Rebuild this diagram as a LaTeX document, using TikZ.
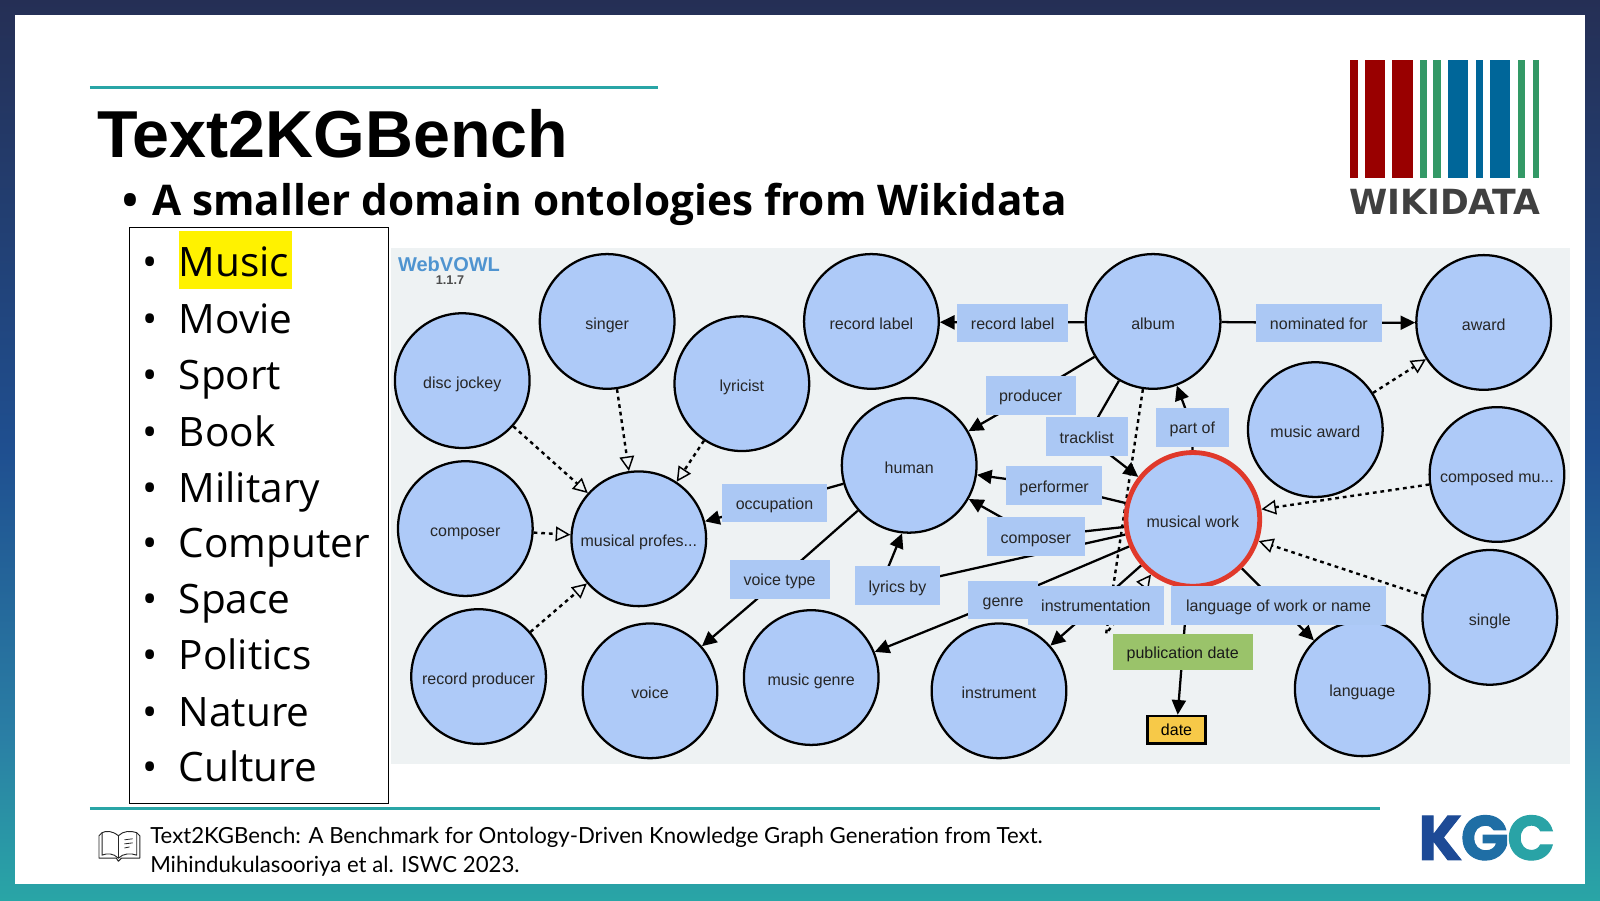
\documentclass[tikz,border=0pt]{standalone}
\usepackage{fontspec}
\setmainfont{Liberation Sans}
\newfontfamily\listf{Open Sans}
\newfontfamily\footf{Lato}
\newfontfamily\wikif{DejaVu Sans}
\newfontfamily\kgcf[FakeBold=1.6]{Poppins}
\usetikzlibrary{arrows.meta,backgrounds}
\definecolor{navyc}{HTML}{252F55}
\definecolor{midc}{HTML}{1F4F90}
\definecolor{lowc}{HTML}{2A7FA5}
\definecolor{tealc}{HTML}{29A5A6}
\definecolor{panelc}{HTML}{EEF2F3}
\definecolor{classc}{HTML}{AECAF8}
\definecolor{lblc}{HTML}{ABC8F4}
\definecolor{greenc}{HTML}{9AC36A}
\definecolor{datec}{HTML}{F7C948}
\definecolor{redc}{HTML}{E0392B}
\definecolor{wred}{HTML}{990000}
\definecolor{wgreen}{HTML}{339966}
\definecolor{wblue}{HTML}{006699}
\pgfdeclareverticalshading{frameg}{100bp}{color(0bp)=(tealc); color(25bp)=(tealc); color(34bp)=(lowc); color(50bp)=(midc); color(75bp)=(navyc); color(100bp)=(navyc)}
\pgfdeclarelayer{back}
\pgfdeclarelayer{edges}
\pgfsetlayers{back,edges,main}
\def\u{0.7653pt}
\tikzset{
  x=0.7653pt,y=-0.7653pt,
  cls/.style={circle,draw=black,fill=classc,line width=1.7pt,minimum size=132*\u,inner sep=0pt,text height=14pt,text depth=2pt,font=\fontsize{12}{14}\selectfont,text=black!85},
  lbl/.style={fill=lblc,inner sep=0pt,minimum height=38*\u,text height=11.5pt,text depth=2pt,font=\fontsize{12}{14}\selectfont,text=black!85},
  solidedge/.style={line width=1.7pt,-{Triangle[length=11pt,width=10.5pt]}},
  subedge/.style={line width=1.8pt,dash pattern=on 2.8pt off 2.9pt,-{Triangle[open,length=11pt,width=11pt,line width=1.1pt,fill=panelc]}},
  rulec/.style={tealc,line width=2.3pt},
  item/.style={anchor=base west,inner sep=0pt,font=\listf\fontsize{30.4}{34}\selectfont},
  bul/.style={anchor=base,inner sep=0pt,font=\listf\fontsize{30.4}{34}\selectfont},
  subt/.style={inner sep=0pt,font=\listf\bfseries\fontsize{31.7}{36}\selectfont},
  foott/.style={anchor=base west,inner sep=0pt,font=\footf\fontsize{16.65}{20}\selectfont},
}
\begin{document}
\begin{tikzpicture}
\useasboundingbox (0,0) rectangle (1568,882);
\begin{pgfonlayer}{back}
\shade[shading=frameg] (0,0) rectangle (1568,882);
\fill[white] (15,15) rectangle (1553,866);
\fill[panelc] (383,243) rectangle (1539,749);
\draw[black,line width=0.8pt,fill=white] (127,223) rectangle (381,787);
\fill[yellow] (175,226) rectangle (286,283);
\draw[rulec] (88,86) -- (645,86);
\draw[rulec] (88,792) -- (1352,792);
% Wikidata logo bars
\fill[wred] (1323.3,59) rectangle (1330.5,174);
\fill[wred] (1337.7,59) rectangle (1357.6,174);
\fill[wred] (1364.5,59) rectangle (1384.7,174);
\fill[wgreen] (1391.6,59) rectangle (1398.8,174);
\fill[wgreen] (1404.7,59) rectangle (1411.9,174);
\fill[wblue] (1419,59) rectangle (1439,174);
\fill[wblue] (1446.2,59) rectangle (1453.3,174);
\fill[wblue] (1460.2,59) rectangle (1480.1,174);
\fill[wgreen] (1487.6,59) rectangle (1494.5,174);
\fill[wgreen] (1502,59) rectangle (1508.5,174);
% book icon
\draw[black!85,line width=0.7pt,line join=round]
  (116,819) .. controls (110,814) and (104,814) .. (100,816) -- (97,819) -- (97,841) -- (114,841) -- (116,844) -- (119,841) -- (137,841) -- (137,819) -- (134,816) .. controls (128,814) and (121,814) .. (116,819) -- cycle;
\draw[black!85,line width=0.7pt] (116,819) -- (116,841);
\draw[black!85,line width=0.7pt] (100,816) -- (100,838) .. controls (105,836) and (111,836) .. (116,841) .. controls (121,836) and (128,836) .. (134,838) -- (134,816);
\draw[black!85,line width=0.6pt] (122,823) -- (130,822) (122,827) -- (130,826) (122,831) -- (127,830);
\end{pgfonlayer}

% title and subtitle
\node[anchor=base west,inner sep=0pt,font=\bfseries\fontsize{49.8}{54}\selectfont] (title) at (95,154) {Text2KGBench};
\node[subt,anchor=base] (subbul) at (128,211) {•};
\node[subt,anchor=base west] (sub) at (149,211) {A smaller domain ontologies from Wikidata};

% topic list
\node[bul] (b1) at (147,271) {•}; \node[item] (t1) at (175,271) {Music};
\node[bul] (b2) at (147,327) {•}; \node[item] (t2) at (175,327) {Movie};
\node[bul] (b3) at (147,382) {•}; \node[item] (t3) at (175,382) {Sport};
\node[bul] (b4) at (147,437.5) {•}; \node[item] (t4) at (175,437.5) {Book};
\node[bul] (b5) at (147,492) {•}; \node[item] (t5) at (175,492) {Military};
\node[bul] (b6) at (147,546.5) {•}; \node[item] (t6) at (175,546.5) {Computer};
\node[bul] (b7) at (147,601) {•}; \node[item] (t7) at (175,601) {Space};
\node[bul] (b8) at (147,656.5) {•}; \node[item] (t8) at (175,656.5) {Politics};
\node[bul] (b9) at (147,711.5) {•}; \node[item] (t9) at (175,711.5) {Nature};
\node[bul] (b10) at (147,766) {•}; \node[item] (t10) at (175,766) {Culture};

% logos
\node[inner sep=0pt,font=\wikif\bfseries\fontsize{26}{28}\selectfont,text=black!75] (wikidata) at (1416,198) {WIKIDATA};
\node[inner sep=0pt,font=\kgcf\bfseries\fontsize{47}{52}\selectfont] (kgc) at (1457,821) {\color[HTML]{1D4A96}K\kern-1pt\color[HTML]{1F6EA5}G\kern-1pt\color[HTML]{29A3A6}C};

% footer
\node[foott] (foot1) at (147,827) {Text2KGBench: A Benchmark for Ontology-Driven Knowledge Graph Generation from Text.};
\node[foott] (foot2) at (147,855) {Mihindukulasooriya et al. ISWC 2023.};

% WebVOWL header
\node[inner sep=0pt,font=\bfseries\fontsize{15}{18}\selectfont,text={rgb,255:red,79;green,148;blue,208}] (wv) at (440,259) {WebVOWL};
\node[inner sep=0pt,font=\bfseries\fontsize{9.5}{10}\selectfont,text=black!70] (wvv) at (441,275) {1.1.7};

% classes
\node[cls] (disc) at (453,373) {disc jockey};
\node[cls] (singer) at (595,315) {singer};
\node[cls] (lyricist) at (727,376) {lyricist};
\node[cls] (rlabel) at (854,315) {record label};
\node[cls] (album) at (1130,315) {album};
\node[cls] (award) at (1454,316) {award};
\node[cls] (maward) at (1289,421) {music award};
\node[cls] (human) at (891,456) {human};
\node[cls,draw=redc,line width=3.6pt,minimum size=131*\u] (mw) at (1169,509) {musical work};
\node[cls] (compmu) at (1467,465) {composed mu...};
\node[cls] (composer) at (456,518) {composer};
\node[cls] (mprof) at (626,528) {musical profes...};
\node[cls] (single) at (1460,605) {single};
\node[cls] (rprod) at (469,663) {record producer};
\node[cls] (voice) at (637,677) {voice};
\node[cls] (mgenre) at (795,664) {music genre};
\node[cls] (instr) at (979,677) {instrument};
\node[cls] (lang) at (1335,675) {language};
\node[draw=black,line width=1.7pt,fill=datec,minimum width=57*\u,minimum height=27*\u,inner sep=0pt,text height=11pt,text depth=2pt,font=\fontsize{12}{14}\selectfont] (date) at (1153,715) {date};

% property labels
\node[lbl,minimum width=109*\u] (lrl) at (992.5,316.5) {record label};
\node[lbl,minimum width=123*\u] (lnom) at (1292.5,316.5) {nominated for};
\node[lbl,minimum width=88*\u] (lprod) at (1010,387.5) {producer};
\node[lbl,minimum width=80*\u] (ltrack) at (1065,428) {tracklist};
\node[lbl,minimum width=71*\u] (lpart) at (1168.5,419) {part of};
\node[lbl,minimum width=94*\u] (lperf) at (1033,476) {performer};
\node[lbl,minimum width=96*\u] (lcomp) at (1015,526) {composer};
\node[lbl,minimum width=102*\u] (locc) at (759,493) {occupation};
\node[lbl,minimum width=98*\u] (lvoice) at (764,568) {voice type};
\node[lbl,minimum width=83*\u] (llyr) at (879.5,574) {lyrics by};
\node[lbl,minimum width=68*\u] (lgenre) at (983,588) {genre};
\node[lbl,minimum width=134*\u] (linstr) at (1074,593.5) {instrumentation};
\node[lbl,minimum width=210*\u] (llang) at (1253,593) {language of work or name};
\node[lbl,fill=greenc,minimum width=137*\u,minimum height=36*\u,text=black!90] (lpub) at (1159,639) {publication date};

\coordinate (bend) at (1084,621);
\coordinate (lyrbend) at (863,574);

% connectors
\begin{pgfonlayer}{edges}
\draw[solidedge] (album) -- (lrl.center) -- (rlabel);
\draw[solidedge] (album) -- (lnom.center) -- (award);
\draw[solidedge] (album) -- (lprod.center) -- (human);
\draw[solidedge] (album) -- (ltrack.center) -- (mw);
\draw[solidedge] (mw) -- (lpart.center) -- (album);
\draw[solidedge] (mw) -- (lperf.center) -- (human);
\draw[solidedge] (mw) -- (lcomp.center) -- (human);
\draw[solidedge] (mw) -- (llyr.center) -- (lyrbend) -- (human.264);
\draw[solidedge] (mw) -- (lgenre.center) -- (mgenre);
\draw[solidedge] (mw) -- (linstr.center) -- (instr);
\draw[solidedge] (mw) -- (llang.center) -- (lang);
\draw[solidedge] (mw) -- (lpub.center) -- (date);
\draw[solidedge] (human) -- (lvoice.center) -- (voice);
\draw[solidedge] (human) -- (locc.center) -- (mprof);
\draw[subedge] (disc) -- (mprof);
\draw[subedge] (singer) -- (mprof);
\draw[subedge] (lyricist) -- (mprof);
\draw[subedge] (composer) -- (mprof);
\draw[subedge] (rprod) -- (mprof);
\draw[subedge] (maward) -- (award);
\draw[subedge] (compmu) -- (mw);
\draw[subedge] (single) -- (mw);
\draw[subedge] (album) -- (bend) -- (mw);
\end{pgfonlayer}
\end{tikzpicture}
\end{document}
